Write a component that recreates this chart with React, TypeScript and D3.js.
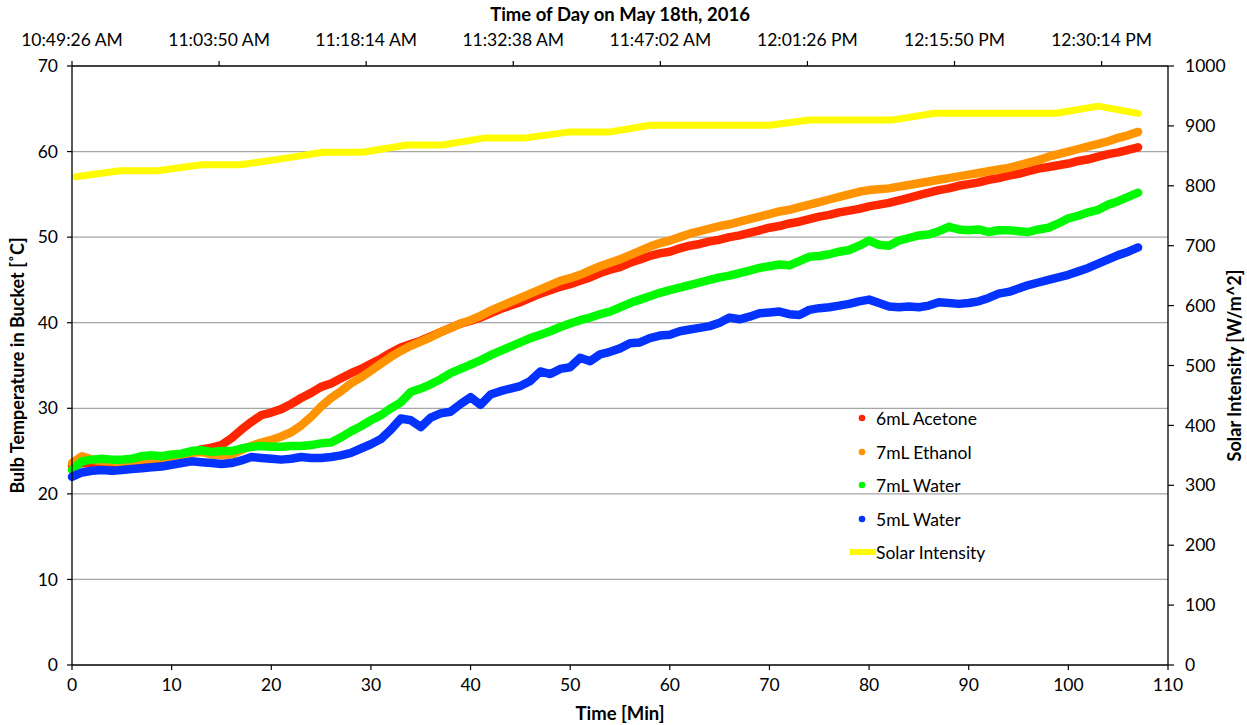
import React from "react";
import * as d3 from "d3";

// minutes since start (shared by the four bulb series)
const minutes = d3.range(0, 108);

const acetone = [
  23.3, 23.6, 23.5, 23.4, 23.5, 23.6, 23.6, 23.8, 23.9, 24.1,
  24.3, 24.5, 24.8, 25.2, 25.4, 25.7, 26.5, 27.5, 28.4, 29.2,
  29.5, 29.9, 30.5, 31.2, 31.8, 32.5, 32.9, 33.5, 34.1, 34.6,
  35.2, 35.8, 36.5, 37.1, 37.5, 37.9, 38.4, 38.9, 39.4, 39.9,
  40.2, 40.6, 41.1, 41.6, 42.0, 42.4, 42.9, 43.4, 43.8, 44.2,
  44.5, 44.9, 45.3, 45.8, 46.2, 46.5, 47.0, 47.4, 47.8, 48.1,
  48.3, 48.7, 49.0, 49.2, 49.5, 49.7, 50.0, 50.2, 50.5, 50.8,
  51.1, 51.3, 51.6, 51.8, 52.1, 52.4, 52.6, 52.9, 53.1, 53.3,
  53.6, 53.8, 54.0, 54.3, 54.6, 54.9, 55.2, 55.5, 55.7, 56.0,
  56.2, 56.4, 56.7, 56.9, 57.2, 57.4, 57.7, 58.0, 58.2, 58.4,
  58.6, 58.9, 59.1, 59.4, 59.7, 59.9, 60.2, 60.5,
];

const ethanol = [
  23.6, 24.4, 24.0, 23.8, 23.8, 23.7, 23.8, 24.0, 24.1, 24.2,
  24.3, 24.4, 24.8, 24.9, 24.6, 24.5, 24.6, 25.1, 25.6, 26.0,
  26.3, 26.7, 27.2, 28.0, 29.0, 30.2, 31.2, 32.0, 32.9, 33.6,
  34.4, 35.2, 36.0, 36.7, 37.3, 37.8, 38.3, 38.9, 39.4, 39.9,
  40.3, 40.8, 41.4, 41.9, 42.4, 42.9, 43.4, 43.9, 44.4, 44.9,
  45.2, 45.6, 46.1, 46.6, 47.0, 47.4, 47.9, 48.4, 48.9, 49.3,
  49.6, 50.0, 50.4, 50.7, 51.0, 51.3, 51.5, 51.8, 52.1, 52.4,
  52.7, 53.0, 53.2, 53.5, 53.8, 54.1, 54.4, 54.7, 55.0, 55.3,
  55.5, 55.6, 55.7, 55.9, 56.1, 56.3, 56.5, 56.7, 56.9, 57.1,
  57.3, 57.5, 57.7, 57.9, 58.1, 58.4, 58.7, 59.0, 59.4, 59.7,
  60.0, 60.3, 60.6, 60.9, 61.2, 61.6, 61.9, 62.3,
];

const water7 = [
  22.8, 23.8, 24.0, 24.1, 24.0, 24.0, 24.1, 24.4, 24.5, 24.4,
  24.6, 24.7, 25.0, 25.1, 24.9, 25.0, 25.0, 25.3, 25.5, 25.6,
  25.5, 25.5, 25.6, 25.6, 25.7, 25.9, 26.0, 26.6, 27.3, 27.9,
  28.6, 29.2, 30.0, 30.7, 31.9, 32.3, 32.8, 33.4, 34.1, 34.6,
  35.1, 35.6, 36.2, 36.7, 37.2, 37.7, 38.2, 38.6, 39.0, 39.5,
  39.9, 40.3, 40.6, 41.0, 41.3, 41.8, 42.3, 42.7, 43.1, 43.5,
  43.8, 44.1, 44.4, 44.7, 45.0, 45.3, 45.5, 45.8, 46.1, 46.4,
  46.6, 46.8, 46.7, 47.2, 47.7, 47.8, 48.0, 48.3, 48.5, 49.0,
  49.6, 49.1, 49.0, 49.6, 49.9, 50.2, 50.3, 50.7, 51.2, 50.9,
  50.8, 50.9, 50.6, 50.8, 50.8, 50.7, 50.6, 50.9, 51.1, 51.6,
  52.2, 52.5, 52.9, 53.2, 53.8, 54.2, 54.7, 55.2,
];

const water5 = [
  22.0, 22.5, 22.7, 22.8, 22.7, 22.8, 22.9, 23.0, 23.1, 23.2,
  23.4, 23.6, 23.8, 23.7, 23.6, 23.5, 23.6, 23.9, 24.3, 24.2,
  24.1, 24.0, 24.1, 24.3, 24.2, 24.2, 24.3, 24.5, 24.8, 25.3,
  25.8, 26.4, 27.5, 28.8, 28.6, 27.8, 28.9, 29.4, 29.6, 30.5,
  31.3, 30.4, 31.6, 32.0, 32.3, 32.6, 33.2, 34.3, 34.0, 34.6,
  34.8, 35.9, 35.5, 36.3, 36.6, 37.0, 37.6, 37.7, 38.2, 38.5,
  38.6, 39.0, 39.2, 39.4, 39.6, 40.0, 40.6, 40.4, 40.7, 41.1,
  41.2, 41.3, 41.0, 40.9, 41.5, 41.7, 41.8, 42.0, 42.2, 42.5,
  42.7, 42.3, 41.9, 41.8, 41.9, 41.8, 42.0, 42.4, 42.3, 42.2,
  42.3, 42.5, 42.9, 43.4, 43.6, 44.0, 44.4, 44.7, 45.0, 45.3,
  45.6, 46.0, 46.4, 46.9, 47.4, 47.9, 48.3, 48.8,
];

// solar intensity readings (right axis)
const solarMinutes = [
  0.4, 4.8, 8.6, 13.0, 16.9, 21.0, 25.2, 29.2, 33.6, 37.2, 41.5, 45.5, 50.0,
  54.0, 58.0, 62.0, 66.0, 70.0, 74.0, 78.0, 82.4, 86.6, 90.8, 94.8, 98.8,
  103.0, 107.0,
];
const solar = [
  815, 825, 825, 835, 835, 845, 856, 856, 868, 868, 880, 880, 890,
  890, 901, 901, 901, 901, 910, 910, 910, 921, 921, 921, 921,
  933, 921,
];

const seriesNames = ["6mL Acetone", "7mL Ethanol", "7mL Water", "5mL Water"];
const seriesColors = ["#FF2600", "#FF9300", "#00F900", "#0433FF"];
const seriesValues = [acetone, ethanol, water7, water5];
const solarColor = "#FFFB00";

const xTicks = d3.range(0, 111, 10);
const yTicks = d3.range(0, 71, 10);
const y2Ticks = d3.range(0, 1001, 100);
const startTime = new Date(2016, 4, 18, 10, 49, 26);
const topTickCount = 8;
const topStepMin = 14.4;
const topSpanMin = 107.3;

const W = 1247;
const H = 725;
const m = { left: 72, right: 79, top: 66, bottom: 60 };
const font = "Lato, 'Open Sans', sans-serif";

export default function App() {
  const x = d3.scaleLinear().domain([0, 110]).range([m.left, W - m.right]);
  const y = d3.scaleLinear().domain([0, 70]).range([H - m.bottom, m.top]);
  const y2 = d3.scaleLinear().domain([0, 1000]).range([H - m.bottom, m.top]);
  const xTop = d3
    .scaleTime()
    .domain([startTime, d3.timeSecond.offset(startTime, topSpanMin * 60)])
    .range([m.left, W - m.right]);
  const topTicks = d3
    .range(topTickCount)
    .map((k) => d3.timeSecond.offset(startTime, Math.round(k * topStepMin * 60)));
  const fmt = d3.timeFormat("%-I:%M:%S %p");

  const line = d3
    .line<number>()
    .x((_, i) => x(minutes[i]))
    .y((d) => y(d));
  const solarLine = d3
    .line<number>()
    .x((_, i) => x(solarMinutes[i]))
    .y((d) => y2(d));

  const left = m.left;
  const right = W - m.right;
  const top = m.top;
  const bottom = H - m.bottom;
  const legX = 862;
  const legY = [419, 453, 486, 520, 553];

  return (
    <svg
      width={W}
      height={H}
      style={{ position: "absolute", left: 0, top: 0, background: "#fff" }}
      fontFamily={font}
    >
      {/* grid */}
      {yTicks
        .filter((t) => t > 0 && t < 70)
        .map((t) => (
          <line key={"g" + t} x1={left} x2={right} y1={y(t)} y2={y(t)} stroke="#a6a6a6" strokeWidth={1.3} />
        ))}

      {/* series */}
      <path d={solarLine(solar) || ""} fill="none" stroke={solarColor} strokeWidth={7} strokeLinejoin="round" strokeLinecap="round" />
      {seriesValues.map((vals, s) => (
        <path
          key={seriesNames[s]}
          d={line(vals) || ""}
          fill="none"
          stroke={seriesColors[s]}
          strokeWidth={8.5}
          strokeLinejoin="round"
          strokeLinecap="round"
        />
      ))}

      {/* axes */}
      <line x1={left} x2={right} y1={bottom} y2={bottom} stroke="#000" strokeWidth={1.3} />
      <line x1={left} x2={right} y1={top} y2={top} stroke="#000" strokeWidth={1.3} />
      <line x1={left} x2={left} y1={top} y2={bottom} stroke="#000" strokeWidth={1.3} />
      <line x1={right} x2={right} y1={top} y2={bottom} stroke="#000" strokeWidth={1.3} />

      {xTicks.map((t) => (
        <g key={"x" + t}>
          <line x1={x(t)} x2={x(t)} y1={bottom} y2={bottom + 5} stroke="#000" strokeWidth={1.2} />
          <text x={x(t)} y={bottom + 26} textAnchor="middle" fontSize={17.5}>
            {t}
          </text>
        </g>
      ))}
      {yTicks.map((t) => (
        <g key={"y" + t}>
          <line x1={left - 5} x2={left} y1={y(t)} y2={y(t)} stroke="#000" strokeWidth={1.2} />
          <text x={left - 14} y={y(t)} dy="0.35em" textAnchor="end" fontSize={17.5}>
            {t}
          </text>
        </g>
      ))}
      {y2Ticks.map((t) => (
        <g key={"r" + t}>
          <line x1={right} x2={right + 6} y1={y2(t)} y2={y2(t)} stroke="#000" strokeWidth={1.2} />
          <text x={right + 17} y={y2(t)} dy="0.35em" textAnchor="start" fontSize={17.5}>
            {t}
          </text>
        </g>
      ))}
      {topTicks.map((d, i) => (
        <g key={"t" + i}>
          <line x1={xTop(d)} x2={xTop(d)} y1={top - 5} y2={top} stroke="#000" strokeWidth={1.2} />
          <text x={xTop(d)} y={top - 20} textAnchor="middle" fontSize={17.5}>
            {fmt(d)}
          </text>
        </g>
      ))}

      {/* titles */}
      <text x={620} y={21} textAnchor="middle" fontSize={18.5} fontWeight="bold">
        Time of Day on May 18th, 2016
      </text>
      <text x={620} y={720} textAnchor="middle" fontSize={18.5} fontWeight="bold">
        Time [Min]
      </text>
      <text
        transform={`translate(24, ${(top + bottom) / 2}) rotate(-90)`}
        textAnchor="middle"
        fontSize={18}
        fontWeight="bold"
      >
        Bulb Temperature in Bucket [˚C]
      </text>
      <text
        transform={`translate(1241, ${(top + bottom) / 2}) rotate(-90)`}
        textAnchor="middle"
        fontSize={18}
        fontWeight="bold"
      >
        Solar Intensity [W/m^2]
      </text>

      {/* legend */}
      {seriesNames.map((n, i) => (
        <g key={"l" + n}>
          <circle cx={legX} cy={legY[i] - 1} r={3.3} fill={seriesColors[i]} />
          <text x={legX + 14} y={legY[i]} dy="0.35em" fontSize={17.5}>
            {n}
          </text>
        </g>
      ))}
      <line x1={legX - 12} x2={legX + 14} y1={legY[4] - 1} y2={legY[4] - 1} stroke={solarColor} strokeWidth={6} />
      <text x={legX + 14} y={legY[4]} dy="0.35em" fontSize={17.5}>
        Solar Intensity
      </text>
    </svg>
  );
}
